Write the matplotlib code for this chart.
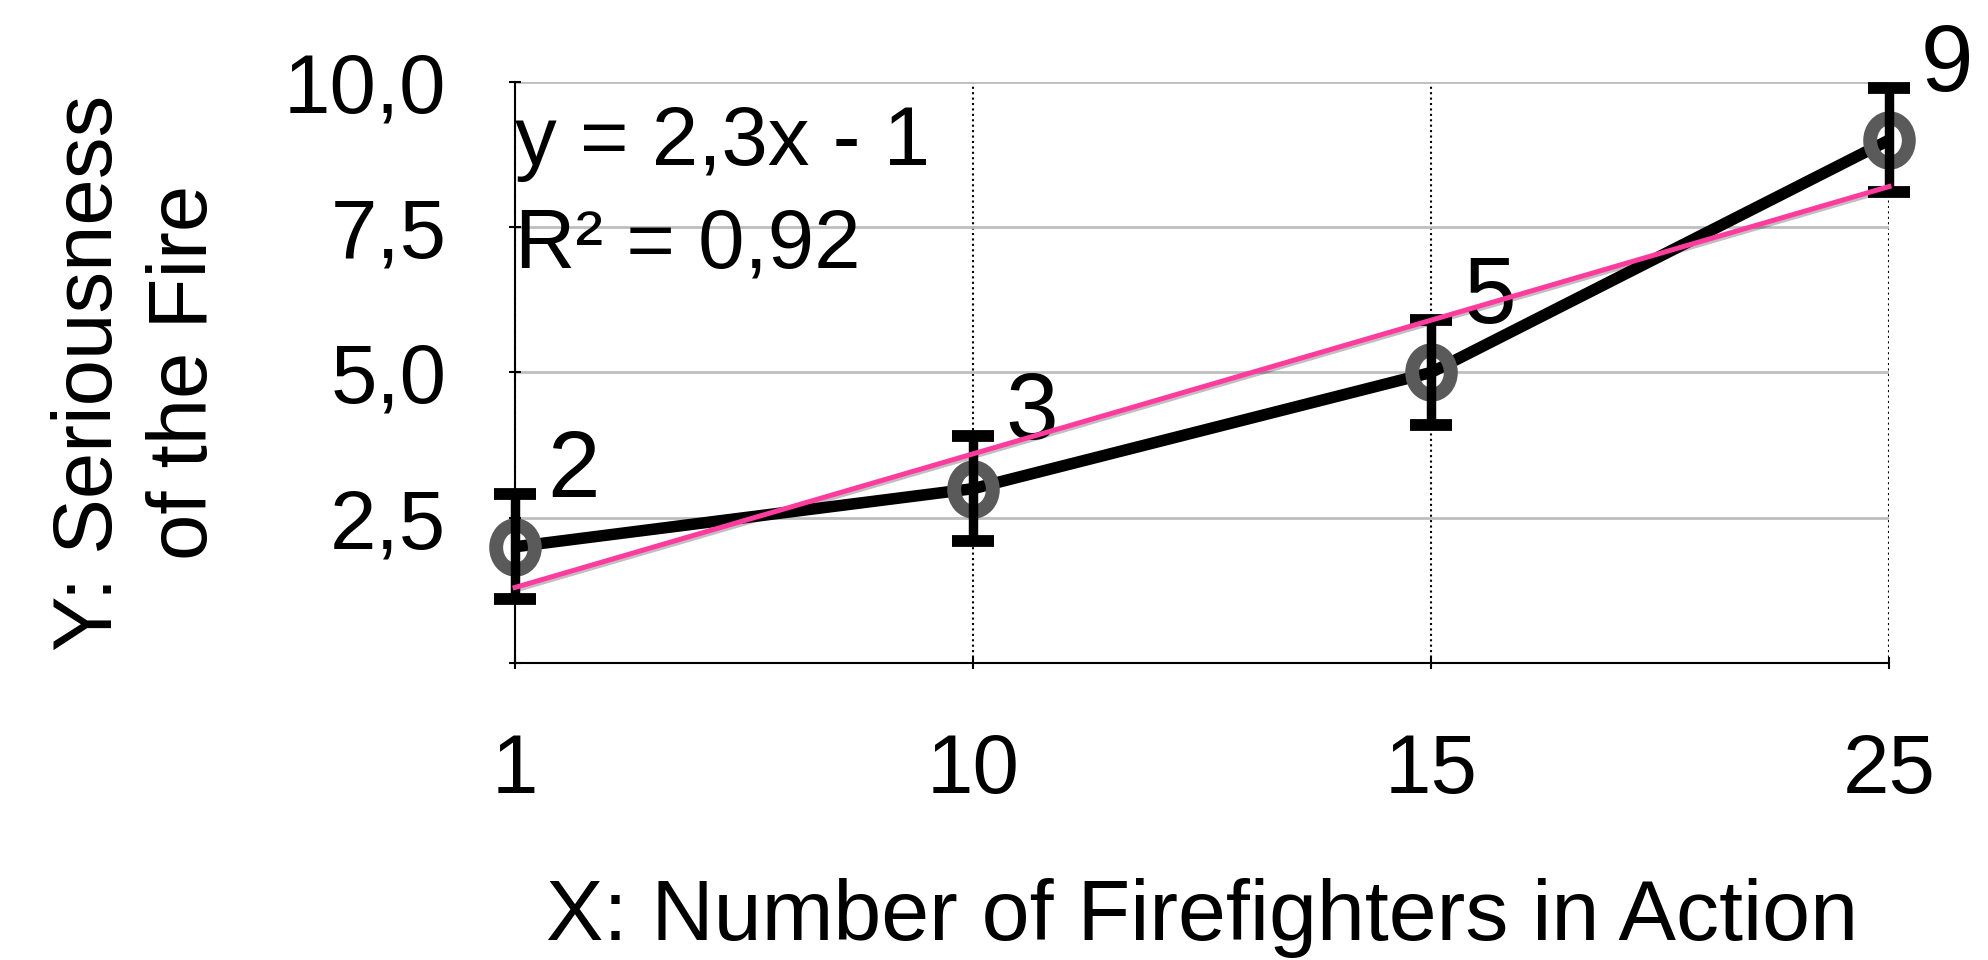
import matplotlib
matplotlib.use("Agg")
import matplotlib.pyplot as plt
import matplotlib.patheffects as pe
from matplotlib.path import Path
import numpy as np

# data
categories = ["1", "10", "15", "25"]
seriousness = [2, 3, 5, 9]
error_size = [0.9, 0.9, 0.9, 0.9]
trend_slope = 2.3
trend_icept = -1
ytick_vals = [0, 2.5, 5, 7.5, 10]
ytick_text = ["", "2,5", "5,0", "7,5", "10,0"]
eq_text = "y = 2,3x - 1"
r2_text = "R\u00b2 = 0,92"

plt.rcParams['font.family'] = ['Liberation Sans', 'DejaVu Sans']

# slightly tall ring marker, like the reference
circ = Path.unit_circle()
ellipse = Path(circ.vertices * np.array([0.87, 1.0]), circ.codes)

fig = plt.figure(figsize=(19.88, 9.6), dpi=100, facecolor='w')
ax = fig.add_axes([0.2591, 0.3094, 0.6911, 0.6052])

xpos = np.arange(len(categories))
trend = [trend_slope * (i + 1) + trend_icept for i in xpos]

# series line + markers + error bars
ax.plot(xpos, seriousness, color='black', lw=8.3, zorder=3, clip_on=False,
        solid_capstyle='butt')
ax.plot(xpos, seriousness, linestyle='none', marker=ellipse, ms=32, mew=10,
        mec='#5a5a5a', mfc='none', zorder=4, clip_on=False)
eb = ax.errorbar(xpos, seriousness, yerr=error_size, fmt='none', ecolor='black',
                 elinewidth=6.8, capsize=15, capthick=8.5, zorder=5)
for art in list(eb.lines[1]) + list(eb.lines[2]):
    art.set_clip_on(False)

# linear trend line
ax.plot(xpos, trend, color='#FF3C9E', lw=3.6, zorder=6, clip_on=False,
        path_effects=[pe.SimpleLineShadow(offset=(1.5, -1.5), alpha=0.25), pe.Normal()])

# data labels
for x, v in zip(xpos, seriousness):
    ax.annotate(str(v), (x, v), xytext=(23, 35.5), textcoords='offset points',
                ha='left', va='baseline', fontsize=68, annotation_clip=False)

ax.text(0.0, 8.57, eq_text, ha='left', va='baseline', fontsize=60, zorder=7)
ax.text(0.0, 6.80, r2_text, ha='left', va='baseline', fontsize=60, zorder=7)

ax.set_xlim(0, len(categories) - 1)
ax.set_ylim(0, 10)
ax.set_xticks(xpos)
ax.set_xticklabels(categories)
ax.set_yticks(ytick_vals)
ax.set_yticklabels(ytick_text)

ax.tick_params(axis='both', direction='inout', length=9, width=1.5, labelsize=60, pad=45)

ax.yaxis.grid(True, color='#BEBEBE', lw=2, linestyle='-')
ax.xaxis.grid(True, color='black', lw=1.5, linestyle=(0, (1, 1.6)))
ax.set_axisbelow(True)

for spine in ('top', 'right'):
    ax.spines[spine].set_visible(False)
for spine in ('left', 'bottom'):
    ax.spines[spine].set_linewidth(1.5)
    ax.spines[spine].set_color('black')

ax.set_xlabel('X: Number of Firefighters in Action', fontsize=62, labelpad=49)
ax.set_ylabel('Y: Seriousness\nof the Fire', fontsize=60, labelpad=43, linespacing=1.28)

plt.savefig("out.png", dpi=100, facecolor='w')
